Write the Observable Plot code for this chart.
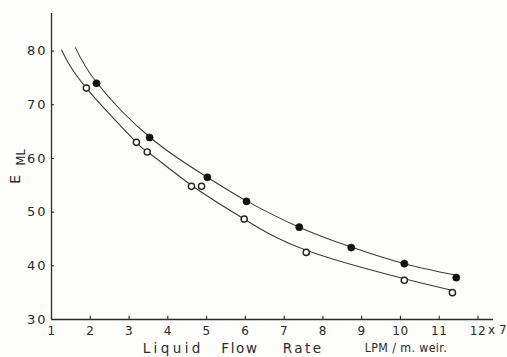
<!DOCTYPE html>
<html>
<head>
<meta charset="utf-8">
<script src="https://cdn.jsdelivr.net/npm/d3@7"></script>
<script src="https://cdn.jsdelivr.net/npm/@observablehq/plot@0.6"></script>
<style>
  html, body { margin: 0; padding: 0; background: #fdfdfb; }
  #chart svg { display: block; }
  #chart g[aria-label="y-axis tick label"] text { letter-spacing: 2px; }
  #chart g[aria-label="x-axis tick label"] text { letter-spacing: 0.5px; }
  #chart text[aria-label="xt-Liquid"] { letter-spacing: 3.4px; }
  #chart text[aria-label="xt-Flow"] { letter-spacing: 1.6px; }
  #chart text[aria-label="xt-Rate"] { letter-spacing: 2.4px; }
  #chart text[aria-label="x-units"] { letter-spacing: 0.4px; }
</style>
</head>
<body>
<div id="chart"></div>
<script>
// Filled-circle series (x = liquid flow rate, y = E_ML)
const filledX = [2.16, 3.53, 5.02, 6.03, 7.39, 8.73, 10.10, 11.44];
const filledY = [74.0, 63.9, 56.5, 52.0, 47.2, 43.4, 40.4, 37.8];
// Open-circle series
const openX = [1.90, 3.19, 3.47, 4.61, 4.87, 5.97, 7.57, 10.10, 11.34];
const openY = [73.1, 63.0, 61.2, 54.8, 54.8, 48.7, 42.5, 37.3, 35.0];
// Hand-drawn fitted curves
const upperCurveX = [1.62, 2.16, 3.53, 5.02, 6.03, 7.39, 8.73, 10.10, 11.47];
const upperCurveY = [80.6, 74.2, 64.0, 56.5, 52.1, 47.2, 43.5, 40.4, 38.2];
const lowerCurveX = [1.26, 1.90, 3.19, 3.47, 4.61, 5.97, 7.57, 10.10, 11.36];
const lowerCurveY = [80.2, 73.1, 63.0, 61.3, 55.0, 48.7, 42.9, 37.6, 35.4];
// Ticks and labels
const xTicks = [1, 2, 3, 4, 5, 6, 7, 8, 9, 10, 11, 12];
const yTicks = [30, 40, 50, 60, 70, 80];
const xTitleWords = ["Liquid", "Flow", "Rate"];
const xTitlePos = [4.14, 5.86, 7.49];
const xUnits = "LPM / m. weir.";
const xUnitsPos = 10.14;
const xMultiplier = "x 7";
const yTitleMain = "E";
const yTitleSub = "ML";

const zip = (xs, ys) => xs.map((x, i) => ({x, y: ys[i]}));
const filled = zip(filledX, filledY);
const open = zip(openX, openY);
const upper = zip(upperCurveX, upperCurveY);
const lower = zip(lowerCurveX, lowerCurveY);
const titleWords = xTitleWords.map((t, i) => ({t, x: xTitlePos[i]}));

const ink = "#2a2a2a";
const font = "DejaVu Sans, sans-serif";

const chart = Plot.plot({
  width: 507,
  height: 357,
  marginLeft: 51,
  marginRight: 14,
  marginTop: 13,
  marginBottom: 38,
  style: {background: "transparent", fontFamily: font, color: ink},
  x: {domain: [1, 12.4]},
  y: {domain: [30, 87]},
  marks: [
    Plot.axisX({ticks: xTicks, tickSize: 0, tickPadding: 7, label: null, fontSize: 12, tickFormat: d => String(d)}),
    Plot.axisY({ticks: yTicks, tickSize: 0, tickPadding: 4, label: null, fontSize: 13, tickFormat: d => String(d)}),
    // inward tick marks
    Plot.ruleX(xTicks.filter(d => d > 1), {x: d => d, y1: 30, y2: 30.6, stroke: ink, strokeWidth: 1.1}),
    Plot.ruleY(yTicks.filter(d => d > 30), {y: d => d, x1: 1, x2: 1.08, stroke: ink, strokeWidth: 1.1}),
    // axis lines
    Plot.ruleX([1], {stroke: ink, strokeWidth: 1.3}),
    Plot.ruleY([30], {stroke: ink, strokeWidth: 1.3}),
    // curves
    Plot.line(upper, {x: "x", y: "y", curve: "natural", stroke: "#3a3f3a", strokeWidth: 1.1}),
    Plot.line(lower, {x: "x", y: "y", curve: "natural", stroke: "#3a3f3a", strokeWidth: 1.1}),
    // points
    Plot.dot(filled, {x: "x", y: "y", r: 3.6, fill: "#111", stroke: "#111", strokeWidth: 0.5}),
    Plot.dot(open, {x: "x", y: "y", r: 3.1, fill: "white", stroke: "#222", strokeWidth: 1.4}),
    // x multiplier after the last tick label
    Plot.text([xMultiplier], {x: 12, y: 30, text: d => d, textAnchor: "start", dx: 10, dy: 11, fontSize: 12, fill: ink}),
    // x-axis title
    Plot.text(titleWords, {x: "x", y: 30, text: "t", dy: 29, fontSize: 13.5, fill: ink, ariaLabel: d => "xt-" + d.t}),
    Plot.text([xUnits], {x: xUnitsPos, y: 30, text: d => d, dy: 29, fontSize: 12.3, fontFamily: "DejaVu Sans Condensed, DejaVu Sans, sans-serif", fill: ink, ariaLabel: () => "x-units"}),
    // y-axis title E with subscript ML
    Plot.text([yTitleMain], {frameAnchor: "left", y: 55.3, text: d => d, dx: -36, rotate: -90, fontSize: 14, fill: ink}),
    Plot.text([yTitleSub], {frameAnchor: "left", y: 58.7, text: d => d, dx: -30, rotate: -90, fontSize: 11.5, fill: ink})
  ]
});
document.getElementById("chart").append(chart);
</script>
</body>
</html>
